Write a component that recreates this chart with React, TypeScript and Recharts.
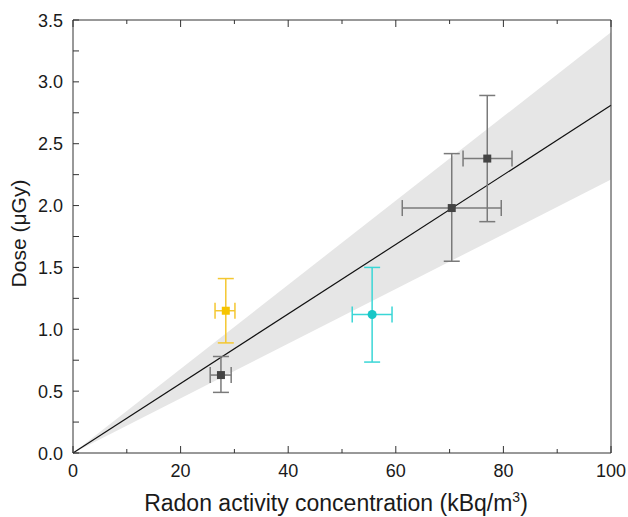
import React from "react";
import {
  ComposedChart,
  Area,
  Line,
  Scatter,
  ErrorBar,
  XAxis,
  YAxis,
} from "recharts";

// Fitted line and confidence band
const fitX = [0, 100];
const fitY = [0, 2.81];
const bandLow = [0, 2.21];
const bandHigh = [0, 3.4];

// Measurement points (dark)
const darkX = [27.5, 70.4, 77.0];
const darkY = [0.63, 1.98, 2.38];
const darkXErr = [[2.0, 1.9], [9.2, 9.2], [4.5, 4.6]];
const darkYErr = [[0.14, 0.15], [0.43, 0.44], [0.51, 0.51]];

// Yellow point
const yellowX = [28.4];
const yellowY = [1.15];
const yellowXErr = [[2.0, 1.7]];
const yellowYErr = [[0.26, 0.26]];

// Cyan point
const cyanX = [55.6];
const cyanY = [1.12];
const cyanXErr = [[3.7, 3.7]];
const cyanYErr = [[0.385, 0.38]];

const xTicks = [0, 10, 20, 30, 40, 50, 60, 70, 80, 90, 100];
const yTicks = [0, 0.25, 0.5, 0.75, 1, 1.25, 1.5, 1.75, 2, 2.25, 2.5, 2.75, 3, 3.25, 3.5];

const xTitle = "Radon activity concentration (kBq/m";
const xTitleSup = "3";
const yTitle = "Dose (μGy)";

const lineData = fitX.map((x, i) => ({
  x,
  fit: fitY[i],
  band: [bandLow[i], bandHigh[i]],
}));

const mk = (xs: number[], ys: number[], exs: number[][], eys: number[][]) =>
  xs.map((x, i) => ({ x, y: ys[i], ex: exs[i], ey: eys[i] }));

const darkData = mk(darkX, darkY, darkXErr, darkYErr);
const yellowData = mk(yellowX, yellowY, yellowXErr, yellowYErr);
const cyanData = mk(cyanX, cyanY, cyanXErr, cyanYErr);

const AX = "#333333";
const TXT = "#1a1a1a";
const FONT = "'Liberation Sans', Arial, sans-serif";

const BottomTick = (props: any) => {
  const { x, y, payload } = props;
  const v = payload.value;
  const major = v % 20 === 0;
  return (
    <g>
      <line x1={x} y1={y} x2={x} y2={y - (major ? 7 : 4)} stroke={AX} strokeWidth={1} />
      {major && (
        <text x={x} y={y + 24} textAnchor="middle" fontSize={18} fill={TXT} fontFamily={FONT}>
          {v}
        </text>
      )}
    </g>
  );
};

const TopTick = (props: any) => {
  const { x, y, payload } = props;
  const major = payload.value % 20 === 0;
  return <line x1={x} y1={y} x2={x} y2={y + (major ? 7 : 4)} stroke={AX} strokeWidth={1} />;
};

const LeftTick = (props: any) => {
  const { x, y, payload } = props;
  const v = payload.value;
  const major = Math.abs((v * 2) % 1) < 1e-6;
  return (
    <g>
      <line x1={x} y1={y} x2={x + 6} y2={y} stroke={AX} strokeWidth={1} />
      {major && (
        <text x={x - 10} y={y + 6.5} textAnchor="end" fontSize={18} fill={TXT} fontFamily={FONT}>
          {v.toFixed(1)}
        </text>
      )}
    </g>
  );
};

const RightTick = (props: any) => {
  const { x, y } = props;
  return <line x1={x} y1={y} x2={x - 6} y2={y} stroke={AX} strokeWidth={1} />;
};

const XTitle = (props: any) => {
  const vb = props.viewBox || {};
  const cx = vb.x + vb.width / 2 - 6;
  const by = vb.y + 58;
  return (
    <text x={cx} y={by} textAnchor="middle" fontSize={23} fill={TXT} fontFamily={FONT}>
      {xTitle}
      <tspan fontSize={14} dy={-9}>{xTitleSup}</tspan>
      <tspan dy={9}>)</tspan>
    </text>
  );
};

const YTitle = (props: any) => {
  const vb = props.viewBox || {};
  const x = vb.x + 26;
  const y = vb.y + vb.height / 2 - 3;
  return (
    <text
      x={x}
      y={y}
      textAnchor="middle"
      fontSize={21}
      fill={TXT}
      fontFamily={FONT}
      transform={`rotate(-90, ${x}, ${y})`}
    >
      {yTitle}
    </text>
  );
};

export default function App() {
  return (
    <div
      style={{
        position: "fixed",
        left: 0,
        top: 0,
        width: 628,
        height: 517,
        overflow: "hidden",
        background: "#fff",
      }}
    >
      <ComposedChart
        width={628}
        height={517}
        data={lineData}
        margin={{ top: 0, right: 0, bottom: 0, left: 0 }}
        style={{ fontFamily: FONT }}
      >
        <XAxis
          xAxisId={0}
          dataKey="x"
          type="number"
          domain={[0, 100]}
          ticks={xTicks}
          interval={0}
          height={64}
          tickSize={0}
          tickMargin={0}
          tickLine={false}
          tick={<BottomTick />}
          axisLine={{ stroke: AX }}
          label={<XTitle />}
        />
        <XAxis
          xAxisId="top"
          orientation="top"
          dataKey="x"
          type="number"
          domain={[0, 100]}
          ticks={xTicks}
          interval={0}
          height={20}
          tickSize={0}
          tickMargin={0}
          tickLine={false}
          tick={<TopTick />}
          axisLine={{ stroke: AX }}
        />
        <YAxis
          yAxisId={0}
          type="number"
          domain={[0, 3.5]}
          ticks={yTicks}
          interval={0}
          width={73}
          tickSize={0}
          tickMargin={0}
          tickLine={false}
          tick={<LeftTick />}
          axisLine={{ stroke: AX }}
          label={<YTitle />}
        />
        <YAxis
          yAxisId="right"
          orientation="right"
          type="number"
          domain={[0, 3.5]}
          ticks={yTicks}
          interval={0}
          width={17}
          tickSize={0}
          tickMargin={0}
          tickLine={false}
          tick={<RightTick />}
          axisLine={{ stroke: AX }}
        />
        <Area
          type="linear"
          dataKey="band"
          stroke="none"
          fill="#e6e6e6"
          fillOpacity={1}
          isAnimationActive={false}
          activeDot={false}
        />
        <Line
          type="linear"
          dataKey="fit"
          stroke="#111"
          strokeWidth={1.2}
          dot={false}
          activeDot={false}
          isAnimationActive={false}
        />
        <Scatter data={darkData} dataKey="y" fill="#444" shape="square" isAnimationActive={false}>
          <ErrorBar dataKey="ey" direction="y" width={8} stroke="#7a7a7a" strokeWidth={1.5} />
          <ErrorBar dataKey="ex" direction="x" width={8} stroke="#7a7a7a" strokeWidth={1.5} />
        </Scatter>
        <Scatter data={yellowData} dataKey="y" fill="#f6c400" shape="square" isAnimationActive={false}>
          <ErrorBar dataKey="ey" direction="y" width={8} stroke="#f4c731" strokeWidth={1.5} />
          <ErrorBar dataKey="ex" direction="x" width={8} stroke="#f4c731" strokeWidth={1.5} />
        </Scatter>
        <Scatter data={cyanData} dataKey="y" fill="#17c7c7" shape="circle" isAnimationActive={false}>
          <ErrorBar dataKey="ey" direction="y" width={8} stroke="#3ad6d6" strokeWidth={1.5} />
          <ErrorBar dataKey="ex" direction="x" width={8} stroke="#3ad6d6" strokeWidth={1.5} />
        </Scatter>
      </ComposedChart>
    </div>
  );
}
